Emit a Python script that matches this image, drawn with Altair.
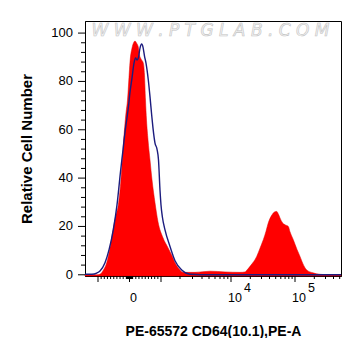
import altair as alt
import pandas as pd

# x is the display channel of the biexponential axis (0..256 across the plot)
red_ch = [0, 10, 13, 15, 18, 21.7, 25, 28, 30.5, 33.3, 35.7, 38.3, 41, 42.5, 44, 45, 47, 48.5,
          50, 51.5, 53.3, 54.5, 56, 58.3, 59.5, 60.5, 61.5, 63, 65, 67, 70, 73, 78, 83, 87, 90,
          94, 98, 110, 125, 140, 155, 160, 162, 166, 171.7, 175, 178.3, 181, 183.3, 187, 189.5,
          191.7, 193.5, 195, 197.5, 200, 203.3, 205, 208.3, 212, 215, 218, 221.7, 228, 235, 245, 256]
red_pct = [0, 0, 0, 0.2, 1.7, 5, 11.2, 18.6, 24, 28.9, 38, 53.7, 67, 72.3, 81.8, 88, 93.8, 95.9,
           96.7, 95.9, 94.2, 90.9, 89.3, 87.6, 82.6, 72.3, 64, 55.8, 47.5, 39.3, 29.8, 21.9, 15.3,
           11.2, 7.9, 5, 2.5, 1, 1, 1.5, 1.2, 1, 1.2, 2, 4, 7.6, 11, 14.5, 18, 21.5, 24.8, 26,
           26.2, 25, 23.5, 21.5, 20.7, 20, 17.8, 14.5, 10.5, 7.6, 4.5, 2, 0.8, 0.2, 0, 0]

blue_ch = [0, 7, 11.7, 15, 20, 24, 28.3, 32, 35.7, 38, 40, 42, 43.3, 45, 47, 49, 50.5, 52, 53.5,
           55, 56.7, 58, 59.5, 61, 63.3, 65, 66.7, 68, 70, 72, 73.5, 75, 76, 77.5, 80, 85, 90,
           96.7, 105, 115, 256]
blue_pct = [0.2, 0.2, 0.7, 1.6, 5, 10.3, 18.6, 28.9, 43.4, 51.6, 59, 65, 69, 75.6, 81.4, 87.6,
            89.7, 88.8, 90, 93.8, 95.5, 94.2, 90.5, 87.6, 80.6, 73.7, 66, 60.7, 54.5, 52, 47.5,
            35, 28.9, 23.6, 18.6, 11.7, 5.8, 2, 0.2, 0, 0]

x_major = [13, 44.5, 76, 146, 210]
x_minor = [16.15, 19.3, 22.45, 25.6, 28.75, 31.9, 35.05, 38.2, 41.35,
           41.7, 42.0, 42.3, 42.6, 42.9, 43.3, 43.6, 43.9, 44.2,
           44.8, 45.1, 45.4, 45.7, 46.1, 46.4, 46.7, 47.0, 47.3,
           47.65, 50.8, 53.95, 57.1, 60.25, 63.4, 66.55, 69.7, 72.85,
           95, 107.5, 117, 124, 130, 135, 139, 142.8,
           165.3, 176.5, 184.5, 190.7, 195.8, 200.1, 203.8, 207.1,
           229.3, 240.5, 248.5, 254.7]
y_major = [0, 20, 40, 60, 80, 100]
y_minor = [4, 8, 12, 16, 24, 28, 32, 36, 44, 48, 52, 56, 64, 68, 72, 76, 84, 88, 92, 96]

label_pos = [44.5, 146, 210]
label_base = ["0", "10", "10"]
label_sup = ["", "4", "5"]

W, H = 256, 255
FONT = "Liberation Sans"

red_df = pd.DataFrame({"ch": red_ch, "pct": red_pct})
blue_df = pd.DataFrame({"ch": blue_ch, "pct": blue_pct})
lab_df = pd.DataFrame({"pos": label_pos, "base": label_base, "sup": label_sup})
xmaj_df = pd.DataFrame({"v": x_major})
xmin_df = pd.DataFrame({"v": x_minor})
ymaj_df = pd.DataFrame({"v": y_major, "t": [str(v) for v in y_major]})
ymin_df = pd.DataFrame({"v": y_minor})

xscale = alt.Scale(domain=[0, 256], nice=False, zero=False)
yscale = alt.Scale(domain=[-0.5, 105], nice=False, zero=False)

xaxis = alt.Axis(ticks=False, labels=False, grid=False, domainColor="black",
                 title="PE-65572 CD64(10.1),PE-A", titleFont=FONT, titleFontSize=14,
                 titleFontWeight="bold", titleColor="black", titlePadding=48)
yaxis = alt.Axis(ticks=False, labels=False, grid=False, domainColor="black",
                 title="Relative Cell Number", titleFont=FONT, titleFontSize=15,
                 titleFontWeight="bold", titleColor="black", titlePadding=51)


def X(field):
    return alt.X(field, scale=xscale, axis=xaxis)


def Y(field):
    return alt.Y(field, scale=yscale, axis=yaxis)


red = alt.Chart(red_df).mark_area(color="#ff0000", interpolate="monotone",
                                  stroke="#e00000", strokeWidth=0.5).encode(
    x=X("ch:Q"), y=Y("pct:Q"), y2=alt.datum(-0.5))

blue = alt.Chart(blue_df).mark_line(color="#1c1c7e", strokeWidth=1.4,
                                    interpolate="monotone").encode(
    x=X("ch:Q"), y=Y("pct:Q"))

xmaj = alt.Chart(xmaj_df).mark_rule(color="black", strokeWidth=1).encode(
    x=X("v:Q"), y=alt.value(H), y2=alt.value(H + 6))
xmin = alt.Chart(xmin_df).mark_rule(color="black", strokeWidth=1).encode(
    x=X("v:Q"), y=alt.value(H), y2=alt.value(H + 3))
ymaj = alt.Chart(ymaj_df).mark_rule(color="black", strokeWidth=1).encode(
    y=Y("v:Q"), x=alt.value(-7), x2=alt.value(0))
ymin = alt.Chart(ymin_df).mark_rule(color="black", strokeWidth=1).encode(
    y=Y("v:Q"), x=alt.value(-4), x2=alt.value(0))
ylab = alt.Chart(ymaj_df).mark_text(font=FONT, fontSize=13, color="black", align="right",
                                    baseline="middle").encode(
    y=Y("v:Q"), x=alt.value(-12), text="t:N")

base_lab = alt.Chart(lab_df).mark_text(font=FONT, fontSize=12.5, color="black", align="center",
                                       baseline="alphabetic", dx=4).encode(
    x=X("pos:Q"), y=alt.value(H + 26), text="base:N")
sup_lab = alt.Chart(lab_df).mark_text(font=FONT, fontSize=12.5, color="black", align="left",
                                      baseline="alphabetic", dx=13).encode(
    x=X("pos:Q"), y=alt.value(H + 15.5), text="sup:N")

watermark = alt.Chart(pd.DataFrame({"t": ["W W W . P T G L A B . C O M"]})).mark_text(
    font="DejaVu Sans", fontSize=17, fontStyle="italic", fill="#f4f4f4", stroke="#c4c4c4",
    strokeWidth=0.6, align="center", baseline="middle").encode(
    x=alt.value(125.5), y=alt.value(9.7), text="t:N")

chart = alt.layer(red, blue, xmaj, xmin, ymaj, ymin, ylab, base_lab, sup_lab, watermark).properties(
    width=W, height=H,
    autosize=alt.AutoSizeParams(type="none"),
    padding={"left": 77, "top": 13, "right": 12, "bottom": 62},
).configure_view(stroke="black", strokeWidth=1).configure_axis(domainWidth=1)

chart.save("out.html", embed_options={"renderer": "svg", "actions": False})
